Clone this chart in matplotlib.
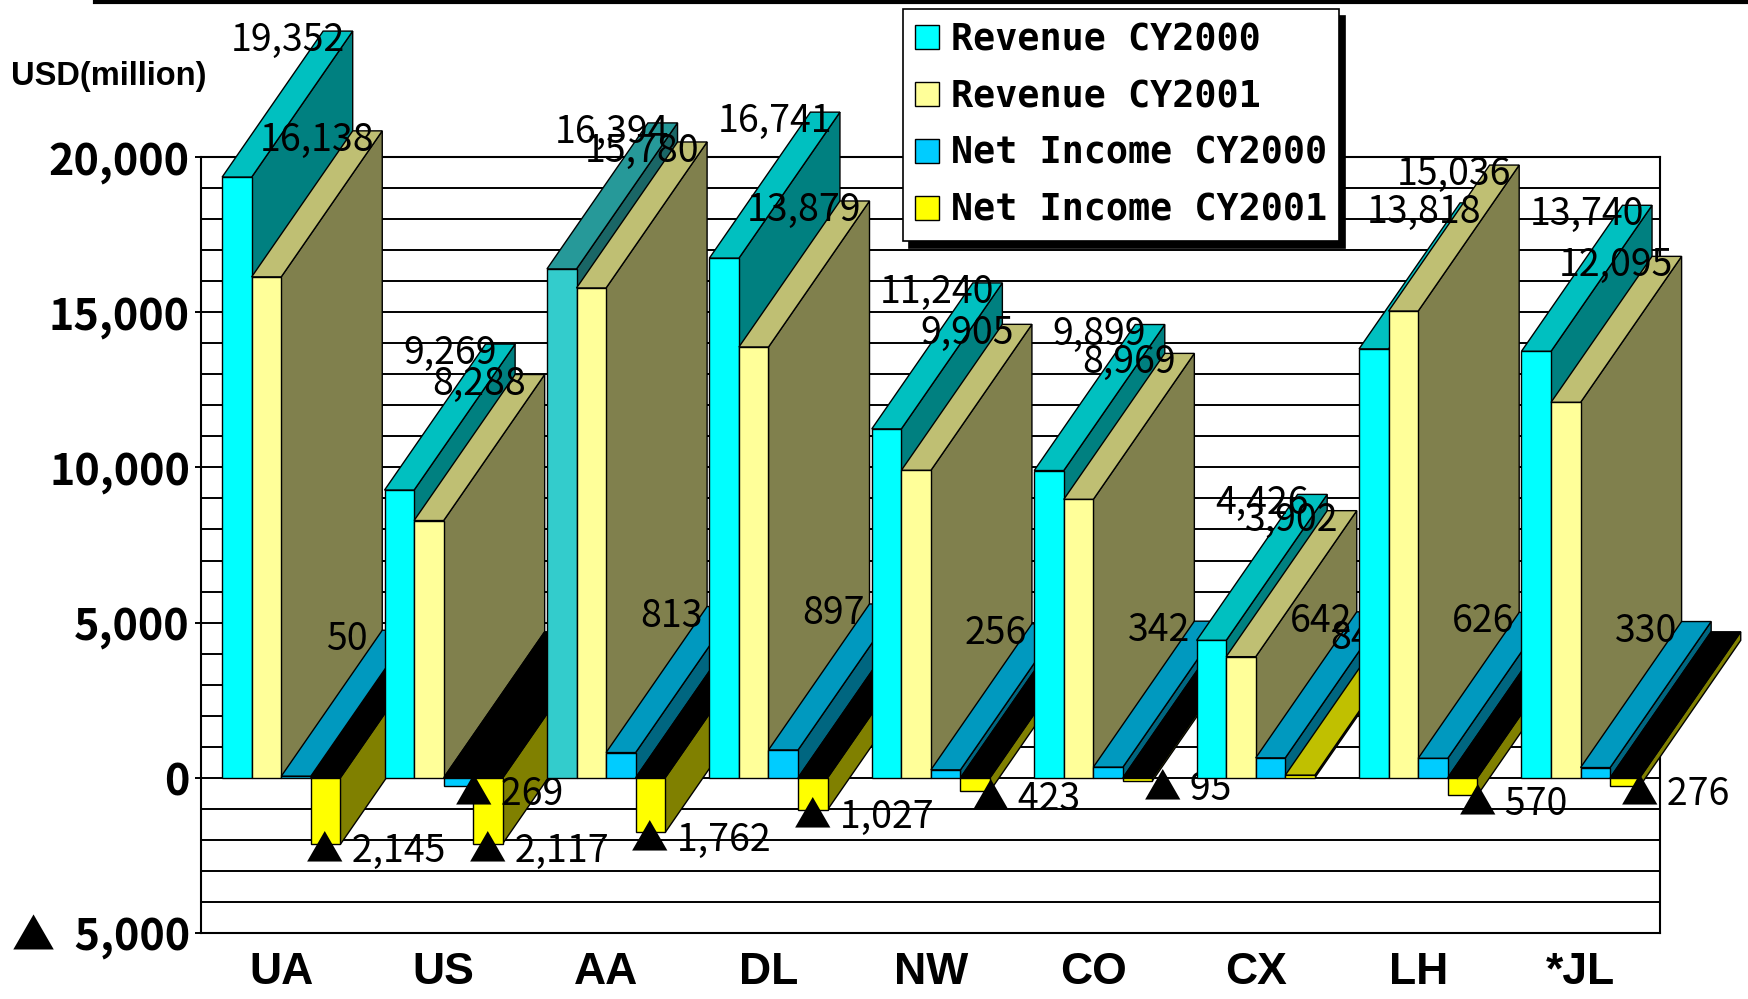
import matplotlib
matplotlib.use('Agg')
import matplotlib.pyplot as plt
from matplotlib.patches import Polygon, Patch
from matplotlib.lines import Line2D

# ---------------- data ----------------
categories = ['UA', 'US', 'AA', 'DL', 'NW', 'CO', 'CX', 'LH', '*JL']
revenue_2000 = [19352, 9269, 16394, 16741, 11240, 9899, 4426, 13818, 13740]
revenue_2001 = [16138, 8288, 15780, 13879, 9905, 8969, 3902, 15036, 12095]
net_income_2000 = [50, -269, 813, 897, 256, 342, 642, 626, 330]
net_income_2001 = [-2145, -2117, -1762, -1027, -423, -95, 84, -570, -276]
series_names = ['Revenue CY2000', 'Revenue CY2001', 'Net Income CY2000', 'Net Income CY2001']
y_major = [-5000, 0, 5000, 10000, 15000, 20000]
y_major_labels = ['\u25b2  5,000', '0', '5,000', '10,000', '15,000', '20,000']

series = [revenue_2000, revenue_2001, net_income_2000, net_income_2001]

# ---------------- styles ----------------
styles = [
    dict(front='#00FFFF', top='#00C0C0', side='#008080'),
    dict(front='#FFFF99', top='#BFBF73', side='#80804D'),
    dict(front='#00CCFF', top='#0099BF', side='#006680'),
    dict(front='#FFFF00', top='#C0C000', side='#808000'),
]
highlight = {(2, 0): dict(front='#33CCCC', top='#269999', side='#1A6666')}
NEG_TOP = '#000000'

W = 0.182      # bar width (category units)
DX = 0.622     # depth offset, x (category units)
DY = 4704      # depth offset, y (value units)

JP = ['Noto Sans CJK JP', 'DejaVu Sans']

fig = plt.figure(figsize=(17.48, 9.99), dpi=100)
ax = fig.add_axes([201 / 1748, 1 - 933 / 999, (1660 - 201) / 1748, (933 - 157) / 999])
ax.set_xlim(-0.494, 8.489)
ax.set_ylim(-5000, 20000)

ax.set_yticks(y_major)
ax.set_yticks(range(-5000, 20001, 1000), minor=True)
ax.set_axisbelow(True)
ax.grid(axis='y', which='both', color='black', lw=1.4)
ax.set_yticklabels(y_major_labels, fontsize=31, fontweight='bold', family=JP)
ax.tick_params(axis='y', which='major', length=4, width=1.4, direction='out', pad=4)
ax.tick_params(axis='y', which='minor', length=0)

ax.set_xticks(range(len(categories)))
ax.set_xticklabels(categories, fontsize=32, fontweight='bold', family='Liberation Sans')
ax.tick_params(axis='x', length=0, pad=14)

for s in ax.spines.values():
    s.set_linewidth(1.5)
    s.set_color('black')
    s.set_zorder(1)

for i in range(len(categories)):
    base = 3 + i
    for k, vals in enumerate(series):
        v = vals[i]
        st = highlight.get((i, k), styles[k])
        xl = i + (k - 2) * W
        xr = xl + W
        hi = max(v, 0)
        lo = min(v, 0)
        z = base + k * 0.1
        side = Polygon([(xr, lo), (xr, hi), (xr + DX, hi + DY), (xr + DX, lo + DY)],
                       closed=True, facecolor=st['side'], edgecolor='black', lw=1.0,
                       zorder=z, clip_on=False, joinstyle='miter')
        top = Polygon([(xl, hi), (xr, hi), (xr + DX, hi + DY), (xl + DX, hi + DY)],
                      closed=True, facecolor=(st['top'] if v >= 0 else NEG_TOP),
                      edgecolor='black', lw=1.0, zorder=z, clip_on=False, joinstyle='miter')
        front = Polygon([(xl, lo), (xr, lo), (xr, hi), (xl, hi)],
                        closed=True, facecolor=st['front'], edgecolor='black', lw=1.0,
                        zorder=z, clip_on=False, joinstyle='miter')
        for p in (side, top, front):
            ax.add_patch(p)
    for k, vals in enumerate(series):
        v = vals[i]
        xl = i + (k - 2) * W
        xc = xl + W / 2 + DX / 2
        if v >= 0:
            ax.text(xc, v + DY - 160, f'{v:,}', ha='center', va='center_baseline',
                    fontsize=27, family=JP, zorder=base + 0.5, clip_on=False)
        else:
            ax.text(xc, v - 130, f'\u25b2 {-v:,}', ha='center', va='center_baseline',
                    fontsize=27, family=JP, zorder=base + 0.5, clip_on=False)

# unit label
fig.text(11 / 1748, 1 - 73 / 999, 'USD(million)', ha='left', va='center_baseline',
         fontsize=23.5, fontweight='bold', family='Liberation Sans')

# top rule
fig.add_artist(Line2D([95 / 1748, 1.0], [1 - 2 / 999, 1 - 2 / 999],
                      transform=fig.transFigure, color='black', lw=3))

# legend
handles = [Patch(facecolor=styles[k]['front'], edgecolor='black', lw=1.0) for k in range(4)]
leg = fig.legend(handles, series_names, loc='upper left',
                 bbox_to_anchor=(903 / 1748, 1 - 9 / 999), bbox_transform=fig.transFigure,
                 prop=dict(family='DejaVu Sans Mono', weight='bold', size=26.5),
                 handlelength=0.64, handleheight=0.64, handletextpad=0.33,
                 labelspacing=0.54, borderpad=0.33, borderaxespad=0,
                 frameon=True, fancybox=False, framealpha=1, edgecolor='black',
                 shadow={'ox': 4, 'oy': -5, 'color': 'black', 'alpha': 1})
leg.get_frame().set_linewidth(1.2)
leg.set_zorder(50)

fig.savefig('out.png', dpi=100)
